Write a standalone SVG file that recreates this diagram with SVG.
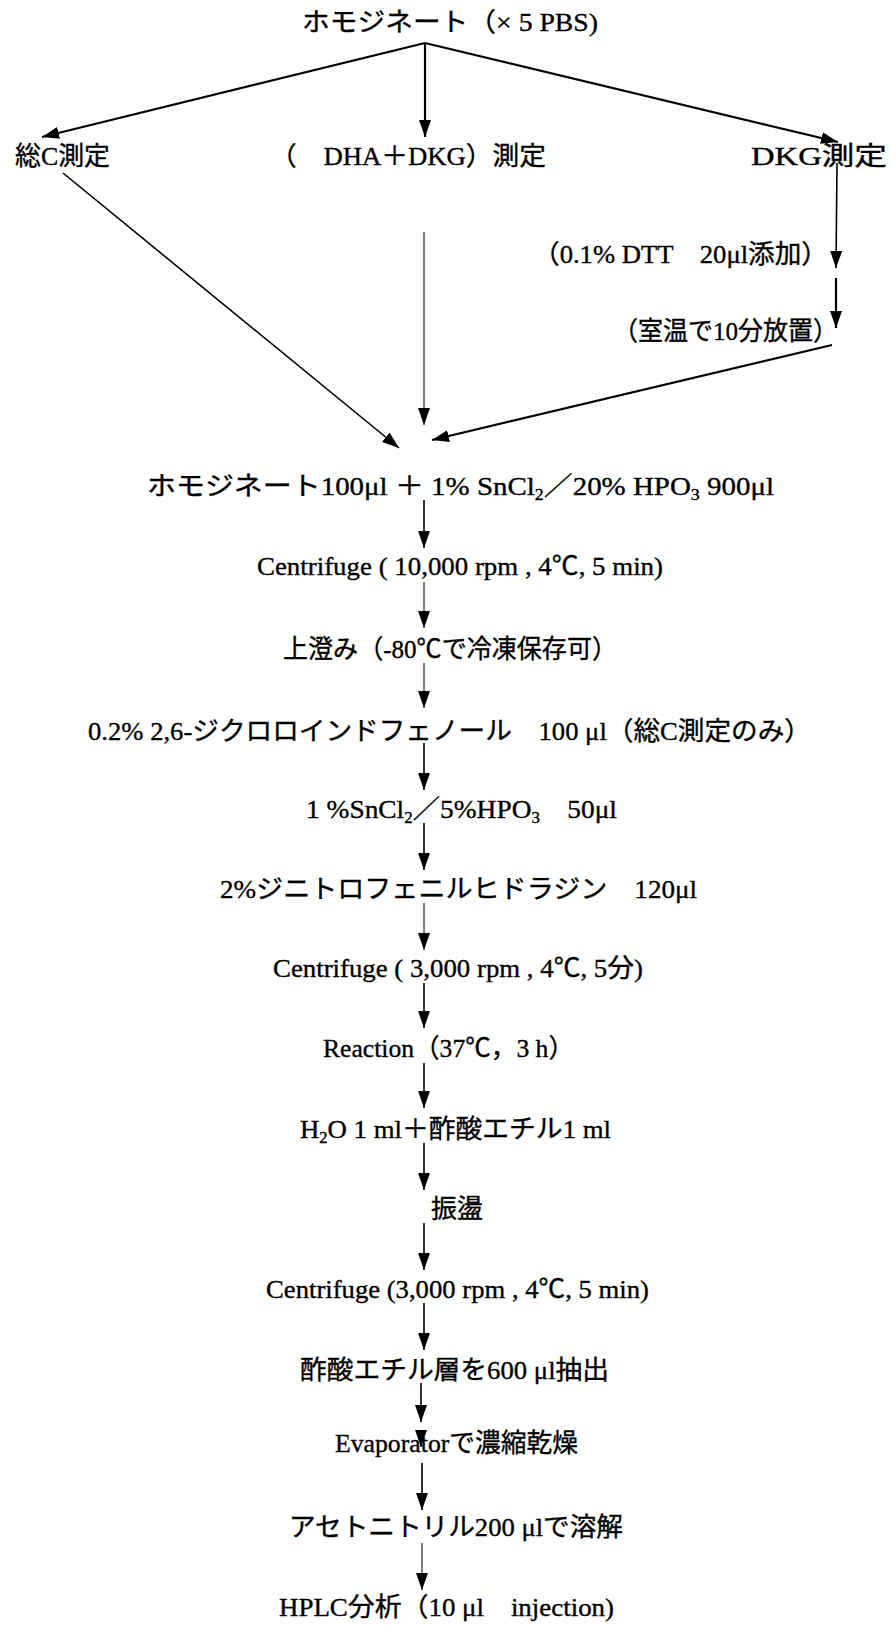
<svg xmlns="http://www.w3.org/2000/svg" width="891" height="1625" viewBox="0 0 891 1625">
<defs>
<marker id="ah" markerUnits="userSpaceOnUse" markerWidth="17" markerHeight="12" viewBox="0 0 17 12" refX="17" refY="6" orient="auto">
<path d="M0,0 L17,6 L0,12 z" fill="#000"/>
</marker>
</defs>
<style>
text{font-family:"Liberation Serif","Noto Sans CJK JP",serif;font-size:26px;fill:#000;stroke:#000;stroke-width:0.35}
.c{stroke:#000;stroke-width:1.6;fill:none}
.t{stroke-width:2.2}
.f{stroke-width:1}
.s{font-size:16px}
</style>
<rect width="891" height="1625" fill="#fff"/>
<g id="connectors">
<line class="c t" x1="425" y1="43" x2="42" y2="137" marker-end="url(#ah)"/>
<line class="c t" x1="425" y1="43" x2="425" y2="137" marker-end="url(#ah)"/>
<line class="c t" x1="425" y1="43" x2="838" y2="142" marker-end="url(#ah)"/>
<line class="c" x1="63" y1="173" x2="399" y2="448" marker-end="url(#ah)"/>
<line class="c f" x1="424" y1="232" x2="424" y2="425" marker-end="url(#ah)"/>
<line class="c" x1="837" y1="163" x2="836" y2="268" marker-end="url(#ah)"/>
<line class="c t" x1="836" y1="278" x2="836" y2="328" marker-end="url(#ah)"/>
<line class="c t" x1="832" y1="345" x2="432" y2="440" marker-end="url(#ah)"/>
<line class="c" x1="424" y1="500" x2="424" y2="548" marker-end="url(#ah)"/>
<line class="c f" x1="424" y1="582" x2="424" y2="628" marker-end="url(#ah)"/>
<line class="c f" x1="424" y1="663" x2="424" y2="708" marker-end="url(#ah)"/>
<line class="c" x1="424" y1="743" x2="424" y2="790" marker-end="url(#ah)"/>
<line class="c" x1="424" y1="823" x2="424" y2="870" marker-end="url(#ah)"/>
<line class="c f" x1="424" y1="903" x2="424" y2="950" marker-end="url(#ah)"/>
<line class="c" x1="424" y1="983" x2="424" y2="1028" marker-end="url(#ah)"/>
<line class="c" x1="424" y1="1063" x2="424" y2="1108" marker-end="url(#ah)"/>
<line class="c" x1="424" y1="1143" x2="424" y2="1190" marker-end="url(#ah)"/>
<line class="c" x1="424" y1="1223" x2="424" y2="1270" marker-end="url(#ah)"/>
<line class="c" x1="424" y1="1303" x2="424" y2="1350" marker-end="url(#ah)"/>
<line class="c" x1="421" y1="1383" x2="421" y2="1422" marker-end="url(#ah)"/>
<line class="c" x1="421" y1="1430" x2="421" y2="1447" marker-end="url(#ah)"/>
<line class="c" x1="422" y1="1463" x2="422" y2="1510" marker-end="url(#ah)"/>
<line class="c f" x1="422" y1="1543" x2="422" y2="1590" marker-end="url(#ah)"/>
</g>
<g id="n_top"><text x="302" y="31" textLength="296" lengthAdjust="spacingAndGlyphs">ホモジネート（× 5 PBS)</text></g>
<g id="n_totalc"><text x="15" y="165" textLength="95" lengthAdjust="spacingAndGlyphs">総C測定</text></g>
<g id="n_dha"><text x="270" y="165" textLength="276" lengthAdjust="spacingAndGlyphs">（　DHA＋DKG）測定</text></g>
<g id="n_dkg"><text x="751" y="165" textLength="136" lengthAdjust="spacingAndGlyphs">DKG測定</text></g>
<g id="n_dtt"><text x="533" y="263" textLength="295" lengthAdjust="spacingAndGlyphs">（0.1%  DTT　20μl添加）</text></g>
<g id="n_rt"><text x="613" y="340" textLength="225" lengthAdjust="spacingAndGlyphs">（室温で10分放置）</text></g>
<g id="n_mix"><text x="147" y="495" textLength="627" lengthAdjust="spacingAndGlyphs">ホモジネート100μl ＋ 1% SnCl<tspan class="s" dy="5">2</tspan><tspan dy="-5">／20% HPO</tspan><tspan class="s" dy="5">3</tspan><tspan dy="-5"> 900μl</tspan></text></g>
<g id="n_cf1"><text x="257" y="575" textLength="406" lengthAdjust="spacingAndGlyphs">Centrifuge ( 10,000 rpm , 4℃, 5 min)</text></g>
<g id="n_sup"><text x="283" y="658" textLength="334" lengthAdjust="spacingAndGlyphs">上澄み（-80℃で冷凍保存可）</text></g>
<g id="n_dcip"><text x="88" y="740" textLength="723" lengthAdjust="spacingAndGlyphs">0.2%  2,6-ジクロロインドフェノール　100 μl（総C測定のみ）</text></g>
<g id="n_sn"><text x="306" y="818" textLength="311" lengthAdjust="spacingAndGlyphs">1 %SnCl<tspan class="s" dy="5">2</tspan><tspan dy="-5">／5%HPO</tspan><tspan class="s" dy="5">3</tspan><tspan dy="-5">　50μl</tspan></text></g>
<g id="n_dnp"><text x="220" y="898" textLength="477" lengthAdjust="spacingAndGlyphs">2%ジニトロフェニルヒドラジン　120μl</text></g>
<g id="n_cf2"><text x="273" y="977" textLength="370" lengthAdjust="spacingAndGlyphs">Centrifuge ( 3,000 rpm , 4℃, 5分)</text></g>
<g id="n_react"><text x="323" y="1057" textLength="251" lengthAdjust="spacingAndGlyphs">Reaction（37℃，3 h）</text></g>
<g id="n_h2o"><text x="300" y="1138" textLength="311" lengthAdjust="spacingAndGlyphs">H<tspan class="s" dy="5">2</tspan><tspan dy="-5">O 1 ml＋酢酸エチル1 ml</tspan></text></g>
<g id="n_shake"><text x="431" y="1218" textLength="52" lengthAdjust="spacingAndGlyphs">振盪</text></g>
<g id="n_cf3"><text x="266" y="1298" textLength="383" lengthAdjust="spacingAndGlyphs">Centrifuge (3,000 rpm , 4℃, 5 min)</text></g>
<g id="n_extract"><text x="300" y="1379" textLength="309" lengthAdjust="spacingAndGlyphs">酢酸エチル層を600 μl抽出</text></g>
<g id="n_evap"><text x="335" y="1452" textLength="243" lengthAdjust="spacingAndGlyphs">Evaporatorで濃縮乾燥</text></g>
<g id="n_acn"><text x="289" y="1536" textLength="334" lengthAdjust="spacingAndGlyphs">アセトニトリル200 μlで溶解</text></g>
<g id="n_hplc"><text x="279" y="1616" textLength="335" lengthAdjust="spacingAndGlyphs">HPLC分析（10 μl　injection)</text></g>
</svg>
